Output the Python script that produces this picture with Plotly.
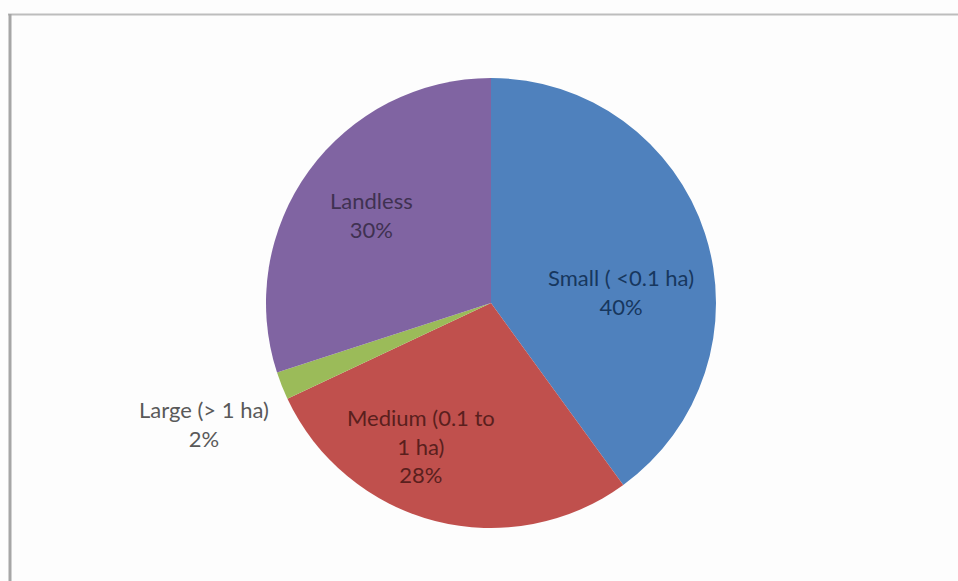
import plotly.graph_objects as go

categories = ["Small ( <0.1 ha)", "Medium (0.1 to 1 ha)", "Large (> 1 ha)", "Landless"]
values = [40, 28, 2, 30]
pcts = ["40%", "28%", "2%", "30%"]
label_lines = ["Small ( <0.1 ha)<br>40%", "Medium (0.1 to<br>1 ha)<br>28%", "Large (> 1 ha)<br>2%", "Landless<br>30%"]
colors = ["#4F81BD", "#C0504D", "#9BBB59", "#8064A2"]
text_colors = ["#17375E", "#5A1F1D", "#595959", "#3F3151"]

W, H = 958, 581
cx, cy, r = 491, 303, 225

fig = go.Figure(go.Pie(
    labels=categories, values=values, sort=False, direction="clockwise", rotation=0,
    marker=dict(colors=colors, line=dict(width=0)),
    textinfo="none", hoverinfo="label+percent", showlegend=False,
    domain=dict(x=[(cx - r) / W, (cx + r) / W], y=[(H - cy - r) / H, (H - cy + r) / H]),
))

label_pos = [(621, 292), (421, 446), (204, 424), (371, 215)]
for txt, col, (x, y) in zip(label_lines, text_colors, label_pos):
    fig.add_annotation(x=x / W, y=1 - y / H, xref="paper", yref="paper", text=txt,
                       showarrow=False, font=dict(family="Lato, Open Sans, sans-serif", size=22, color=col),
                       align="center", xanchor="center", yanchor="middle")

fig.add_shape(type="line", xref="paper", yref="paper", x0=8 / W, x1=1, y0=1 - 14.5 / H, y1=1 - 14.5 / H,
              line=dict(color="#BDBDBD", width=2))
fig.add_shape(type="line", xref="paper", yref="paper", x0=10 / W, x1=10 / W, y0=0, y1=1 - 14 / H,
              line=dict(color="#A6A6A6", width=3))

fig.update_layout(width=W, height=H, margin=dict(l=0, r=0, t=0, b=0),
                  paper_bgcolor="#FDFDFD", plot_bgcolor="#FDFDFD")
fig.write_html("out.html")
